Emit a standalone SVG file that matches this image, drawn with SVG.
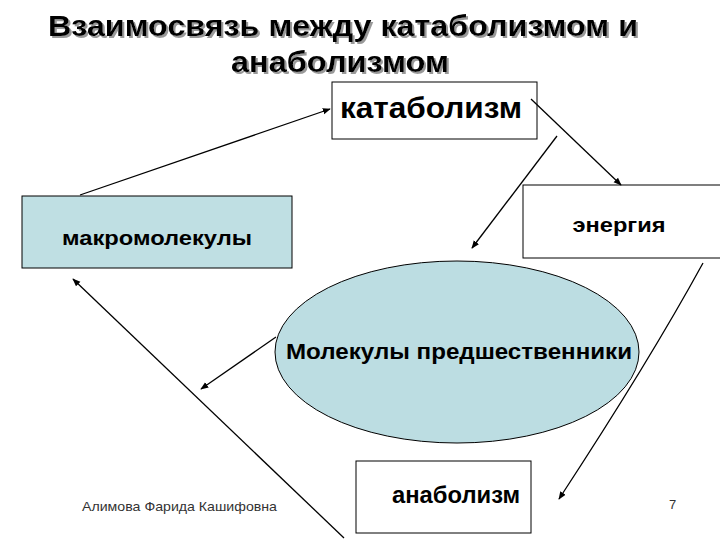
<svg xmlns="http://www.w3.org/2000/svg" width="720" height="540" viewBox="0 0 720 540">
<style>
.t{font-family:"Liberation Sans",Arial,sans-serif;font-weight:bold;fill:#000}
.box{stroke:#000;stroke-width:1}
.c{fill:none;stroke:#000;stroke-width:1.3}
</style>
<defs>
<marker id="ah" viewBox="0 0 10 10" refX="9" refY="5" markerWidth="8" markerHeight="8" markerUnits="userSpaceOnUse" orient="auto">
<path d="M0,1 L10,5 L0,9 z" fill="#000"/>
</marker>
<filter id="sh" x="-5%" y="-20%" width="110%" height="140%">
<feDropShadow dx="2" dy="2" stdDeviation="0.6" flood-color="#999" flood-opacity="1"/>
</filter>
</defs>
<rect width="720" height="540" fill="#fff"/>
<g id="title" filter="url(#sh)">
<text x="343" y="36" text-anchor="middle" class="t" font-size="29" textLength="590" lengthAdjust="spacingAndGlyphs">Взаимосвязь между катаболизмом и</text>
<text x="340" y="72" text-anchor="middle" class="t" font-size="29" textLength="218" lengthAdjust="spacingAndGlyphs">анаболизмом</text>
</g>
<g id="catabolism">
<rect x="332" y="82" width="205" height="57" fill="#fff" class="box"/>
<text x="431" y="118" text-anchor="middle" class="t" font-size="30" textLength="182" lengthAdjust="spacingAndGlyphs">катаболизм</text>
</g>
<g id="energy">
<rect x="523" y="185" width="200" height="73" fill="#fff" class="box"/>
<text x="619" y="232" text-anchor="middle" class="t" font-size="21" textLength="93" lengthAdjust="spacingAndGlyphs">энергия</text>
</g>
<g id="macromolecules">
<rect x="22" y="196" width="270" height="72" fill="#bfdfe3" class="box"/>
<text x="157" y="245" text-anchor="middle" class="t" font-size="21" textLength="190" lengthAdjust="spacingAndGlyphs">макромолекулы</text>
</g>
<g id="precursors">
<ellipse cx="457" cy="352" rx="182" ry="91" fill="#bcdde2" stroke="#000" stroke-width="1"/>
<text x="459" y="359" text-anchor="middle" class="t" font-size="22" textLength="346" lengthAdjust="spacingAndGlyphs">Молекулы предшественники</text>
</g>
<g id="anabolism">
<rect x="356" y="461" width="175" height="72" fill="#fff" class="box"/>
<text x="456" y="503" text-anchor="middle" class="t" font-size="23" textLength="128" lengthAdjust="spacingAndGlyphs">анаболизм</text>
</g>
<g id="connectors">
<path class="c" d="M80,195 L330,109" marker-end="url(#ah)"/>
<path class="c" d="M531,99 L621,185" marker-end="url(#ah)"/>
<path class="c" d="M557,136 L472,248" marker-end="url(#ah)"/>
<path class="c" d="M703,263 Q650,360 559,499" marker-end="url(#ah)"/>
<path class="c" d="M276,337 L201,389" marker-end="url(#ah)"/>
<path class="c" d="M344,538 L73,279" marker-end="url(#ah)"/>
</g>
<g id="footer">
<text x="82" y="511" font-family="'Liberation Sans',Arial,sans-serif" font-size="13" fill="#333" textLength="195" lengthAdjust="spacingAndGlyphs">Алимова Фарида Кашифовна</text>
<text x="669" y="509" font-family="'Liberation Sans',Arial,sans-serif" font-size="13" fill="#333">7</text>
</g>
</svg>
